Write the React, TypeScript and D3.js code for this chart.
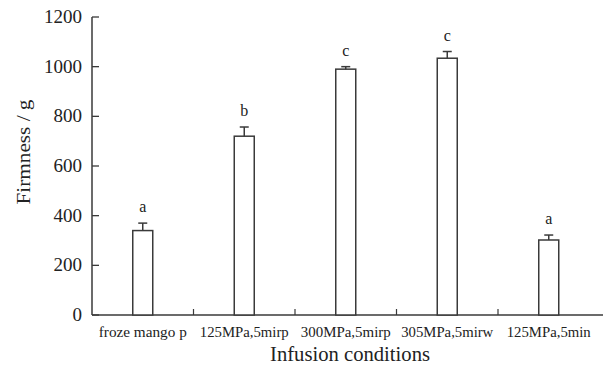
import React from "react";
import * as d3 from "d3";

const categories = ["froze mango p", "125MPa,5mirp", "300MPa,5mirp", "305MPa,5mirw", "125MPa,5min"];
const values = [340, 720, 990, 1034, 302];
const errors = [30, 37, 10, 27, 20];
const letters = ["a", "b", "c", "c", "a"];
const yTicks = [0, 200, 400, 600, 800, 1000, 1200];
const labelWidths = [88, 89, 90, 92, 84];

export default function App() {
  const W = 605, H = 369;
  const x0 = 92, x1 = 599.5, yTop = 17, yBot = 315;
  const x = d3.scaleBand<string>().domain(categories).range([x0, x1]);
  const y = d3.scaleLinear().domain([0, 1200]).range([yBot, yTop]);
  const bw = 20;
  const stroke = "#3a3a3a";
  const font = "'Liberation Serif', 'Times New Roman', serif";
  return (
    <svg width={W} height={H} style={{ position: "absolute", left: 0, top: 0, background: "#fff" }} fontFamily={font}>
      <rect width={W} height={H} fill="#fff" />
      <line x1={x0} x2={x0} y1={yTop} y2={yBot} stroke={stroke} strokeWidth={1.5} />
      <line x1={x0} x2={603} y1={yBot} y2={yBot} stroke={stroke} strokeWidth={1.5} />
      {yTicks.map((t) => (
        <g key={t}>
          <line x1={x0} x2={x0 + 7} y1={y(t)} y2={y(t)} stroke={stroke} strokeWidth={1.3} />
          <text x={x0 - 10} y={y(t) + 6} textAnchor="end" fontSize={19} fill="#222">{t}</text>
        </g>
      ))}
      {categories.slice(1).map((c) => (
        <line key={c} x1={x(c)!} x2={x(c)!} y1={yBot} y2={yBot - 6} stroke={stroke} strokeWidth={1.2} />
      ))}
      {categories.map((c, i) => {
        const cx = x(c)! + x.bandwidth() / 2;
        const top = y(values[i]);
        const et = y(values[i] + errors[i]);
        return (
          <g key={c}>
            <rect x={cx - bw / 2} y={top} width={bw} height={yBot - top} fill="#fff" stroke={stroke} strokeWidth={1.5} />
            <line x1={cx} x2={cx} y1={top} y2={et} stroke={stroke} strokeWidth={1.5} />
            <line x1={cx - 4.5} x2={cx + 4.5} y1={et} y2={et} stroke={stroke} strokeWidth={1.5} />
            <text x={cx} y={et - 11} textAnchor="middle" fontSize={16} fill="#222">{letters[i]}</text>
            <text x={cx} y={337} textAnchor="middle" fontSize={14} fill="#222" textLength={labelWidths[i]} lengthAdjust="spacingAndGlyphs">{c}</text>
          </g>
        );
      })}
      <text x={350} y={361} textAnchor="middle" fontSize={20} fill="#222" textLength={160} lengthAdjust="spacingAndGlyphs">Infusion conditions</text>
      <text transform="translate(30,152) rotate(-90)" textAnchor="middle" fontSize={18} fill="#222" textLength={105} lengthAdjust="spacingAndGlyphs">Firmness / g</text>
    </svg>
  );
}
